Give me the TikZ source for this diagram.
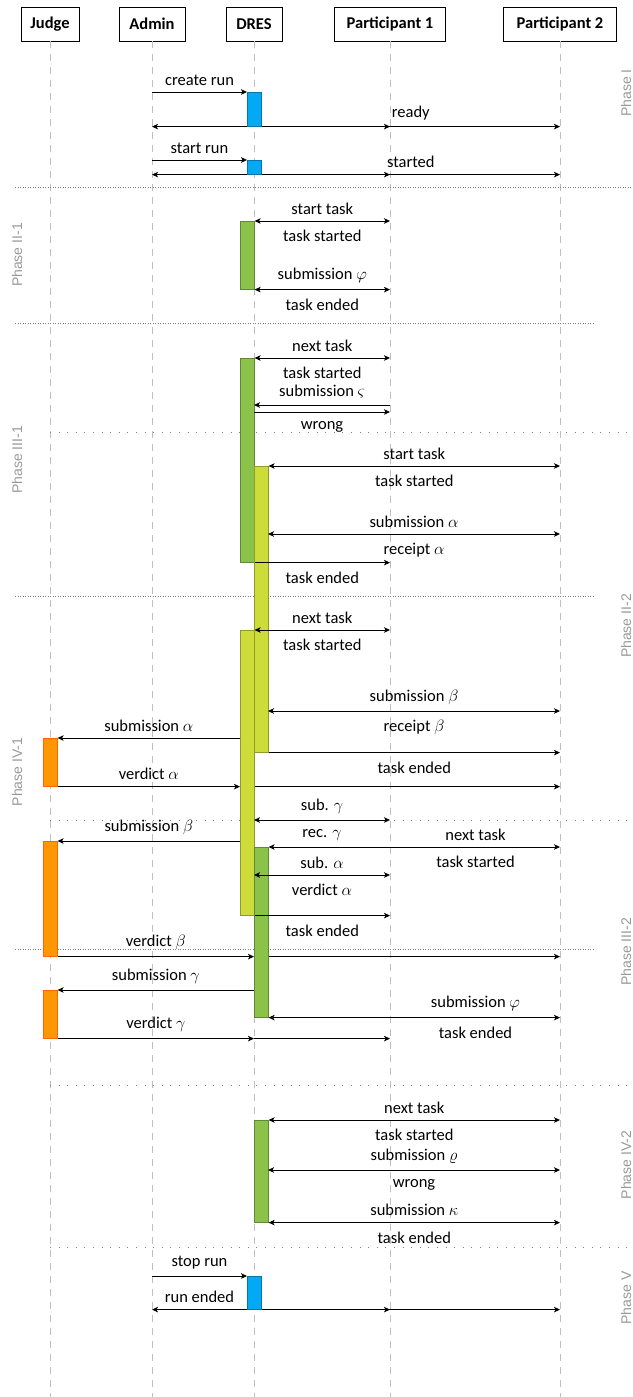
\RequirePackage{fix-cm}
\documentclass[tikz,border=0pt]{standalone}
\usepackage{fontspec}
\setmainfont{Carlito}
\newfontfamily\phasefont{Liberation Sans}
\usepackage{tikz}
\usetikzlibrary{arrows.meta}
\definecolor{runblue}{HTML}{03A9F4}
\definecolor{taskgreen}{HTML}{8BC34A}
\definecolor{tasklime}{HTML}{CDDC39}
\definecolor{judgeorange}{HTML}{FF9800}
\tikzset{>={Stealth[length=6pt,width=5.5pt,inset=1.5pt]}}
\tikzset{
  actor/.style={draw,line width=0.8pt,fill=white,minimum height=34pt,inner sep=2pt,
    font=\fontsize{16.5}{19}\selectfont\bfseries},
  lifeline/.style={gray!50,line width=0.8pt,dash pattern=on 7pt off 6pt},
  act/.style={fill=#1,draw=#1!70!black,line width=0.6pt,minimum width=14pt,
    inner sep=0pt,anchor=north west},
  msg/.style={->,line width=0.8pt},
  twoway/.style={<->,line width=0.8pt},
  msgabove/.style={above=3pt},
  msgbelow/.style={below=5.5pt},
  finesep/.style={gray,line width=0.5pt,dash pattern=on 0.5pt off 2pt},
  widesep/.style={gray,line width=0.6pt,dash pattern=on 0.6pt off 8pt},
  phase/.style={rotate=90,anchor=base,inner sep=0pt,text=gray!80,
    font=\phasefont\fontsize{14}{16}\selectfont},
}

\begin{document}
\begin{tikzpicture}[x=1pt,y=-1pt,font=\fontsize{16.5}{19}\selectfont]
    \useasboundingbox (0,0) rectangle (632,1397);
    \coordinate (E) at (0,1397);
    \foreach \n/\x/\w/\t in {J/50/58/Judge,A/152/66/Admin,D/254/56/DRES,
        P1/390/111/Participant 1,P2/560/113/Participant 2}{
      \node[actor,minimum width=\w pt] (\n) at (\x,24) {\t};
      \draw[lifeline] (\n.south) -- (\n.south |- E);
    }
%   phases
    \draw[finesep] (15,187) -- (632,187);
    \foreach \y in {323,596,949} \draw[finesep] (15,\y) -- (593,\y);
    \foreach \y in {432,820,1085,1247} \draw[widesep] (50,\y) -- (632,\y);
    \node[phase] (L1) at (22,255) {Phase II-1};
    \node[phase] (L2) at (22,460) {Phase III-1};
    \node[phase] (L3) at (22,772) {Phase IV-1};
    \node[phase] (R1) at (631,93) {Phase I};
    \node[phase] (R2) at (631,626) {Phase II-2};
    \node[phase] (R3) at (631,952) {Phase III-2};
    \node[phase] (R4) at (631,1165) {Phase IV-2};
    \node[phase] (R5) at (631,1298) {Phase V};
%   activations
    \node[act=runblue,minimum height=34pt] (B1) at (247,92) {};
    \node[act=runblue,minimum height=14pt] (B2) at (247,160) {};
    \node[act=runblue,minimum height=33pt] (B3) at (247,1276) {};
    \node[act=taskgreen,minimum height=68pt] (G1) at (240,221) {};
    \node[act=taskgreen,minimum height=204pt] (G2) at (240,358) {};
    \node[act=tasklime,minimum height=286pt] (Y1) at (254,466) {};
    \node[act=tasklime,minimum height=285pt] (Y2) at (240,630) {};
    \node[act=taskgreen,minimum height=170pt] (G3) at (254,847) {};
    \node[act=taskgreen,minimum height=102pt] (G4) at (254,1120) {};
    \node[act=judgeorange,draw=orange!80!red,minimum height=48pt] (O1) at (43,738) {};
    \node[act=judgeorange,draw=orange!80!red,minimum height=115pt] (O2) at (43,841) {};
    \node[act=judgeorange,draw=orange!80!red,minimum height=48pt] (O3) at (43,990) {};
    \coordinate (M1) at (254,405);
    \coordinate (M2) at (254,412);
    \coordinate (M3) at (268,534);
    \coordinate (M4) at (268,711);
    \coordinate (M5) at (254,820);
    \coordinate (M6) at (254,875);
    \coordinate (M7) at (268,1170);
%   Phase I
    \draw[msg] (A |- B1.north) -- node[msgabove]{create run} (B1.north west);
    \draw[msg] (B1.south west) -- (A |- B1.south);
    \draw[msg] (B1.south east) -- (P1 |- B1.south);
    \draw[msg] (B1.south east) -- node[msgabove]{ready} (P2 |- B1.south);
    \draw[msg] (A |- B2.north) -- node[msgabove]{start run} (B2.north west);
    \draw[msg] (B2.south west) -- (A |- B2.south);
    \draw[msg] (B2.south east) -- (P1 |- B2.south);
    \draw[msg] (B2.south east) -- node[msgabove]{started} (P2 |- B2.south);
%   Phase II-1
    \draw[twoway] (G1.north east) -- node[msgabove]{start task} node[msgbelow]{task started} (P1 |- G1.north);
    \draw[twoway] (G1.south east) -- node[msgabove]{submission $\varphi$} node[msgbelow]{task ended} (P1 |- G1.south);
%   Phase III-1
    \draw[twoway] (G2.north east) -- node[msgabove]{next task} node[msgbelow]{task started} (P1 |- G2.north);
    \draw[msg] (P1 |- M1) -- node[msgabove]{submission $\varsigma$} (M1);
    \draw[msg] (M2) -- node[msgbelow]{wrong} (P1 |- M2);
    \draw[twoway] (Y1.north east) -- node[msgabove]{start task} node[msgbelow]{task started} (P2 |- Y1.north);
    \draw[twoway] (M3) -- node[msgabove]{submission $\alpha$} node[msgbelow]{receipt $\alpha$} (P2 |- M3);
    \draw[msg] (G2.south east) -- node[msgbelow]{task ended} (P1 |- G2.south);
%   Phase II-2 and IV-1
    \draw[twoway] (Y2.north east) -- node[msgabove]{next task} node[msgbelow]{task started} (P1 |- Y2.north);
    \draw[twoway] (M4) -- node[msgabove]{submission $\beta$} node[msgbelow]{receipt $\beta$} (P2 |- M4);
    \draw[msg] (Y2.west |- O1.north) -- node[msgabove]{submission $\alpha$} (O1.north east);
    \draw[msg] (Y1.south east) -- node[msgbelow]{task ended} (P2 |- Y1.south);
    \draw[msg] (O1.south east) -- node[msgabove]{verdict $\alpha$} (Y2.west |- O1.south);
    \draw[msg] (Y2.east |- O1.south) -- (P2 |- O1.south);
    \draw[twoway] (M5) -- node[msgabove]{sub. $\gamma$} node[msgbelow]{rec. $\gamma$} (P1 |- M5);
    \draw[msg] (Y2.west |- O2.north) -- node[msgabove]{submission $\beta$} (O2.north east);
    \draw[twoway] (G3.north east) -- node[msgabove,pos=0.71]{next task} node[msgbelow,pos=0.71]{task started} (P2 |- G3.north);
    \draw[twoway] (M6) -- node[msgabove]{sub. $\alpha$} node[msgbelow]{verdict $\alpha$} (P1 |- M6);
    \draw[msg] (Y2.south east) -- node[msgbelow]{task ended} (P1 |- Y2.south);
%   Phase III-2
    \draw[msg] (O2.south east) -- node[msgabove]{verdict $\beta$} (G3.west |- O2.south);
    \draw[msg] (G3.east |- O2.south) -- (P2 |- O2.south);
    \draw[msg] (G3.west |- O3.north) -- node[msgabove]{submission $\gamma$} (O3.north east);
    \draw[twoway] (G3.south east) -- node[msgabove,pos=0.71]{submission $\varphi$} node[msgbelow,pos=0.71]{task ended} (P2 |- G3.south);
    \draw[msg] (O3.south east) -- node[msgabove]{verdict $\gamma$} (G3.west |- O3.south);
    \draw[msg] (G3.west |- O3.south) -- (P1 |- O3.south);
%   Phase IV-2
    \draw[twoway] (G4.north east) -- node[msgabove]{next task} node[msgbelow]{task started} (P2 |- G4.north);
    \draw[twoway] (M7) -- node[msgabove]{submission $\varrho$} node[msgbelow]{wrong} (P2 |- M7);
    \draw[twoway] (G4.south east) -- node[msgabove]{submission $\kappa$} node[msgbelow]{task ended} (P2 |- G4.south);
%   Phase V
    \draw[msg] (A |- B3.north) -- node[msgabove]{stop run} (B3.north west);
    \draw[msg] (B3.south west) -- node[msgabove]{run ended} (A |- B3.south);
    \draw[msg] (B3.south east) -- (P1 |- B3.south);
    \draw[msg] (B3.south east) -- (P2 |- B3.south);
\end{tikzpicture}
\end{document}
